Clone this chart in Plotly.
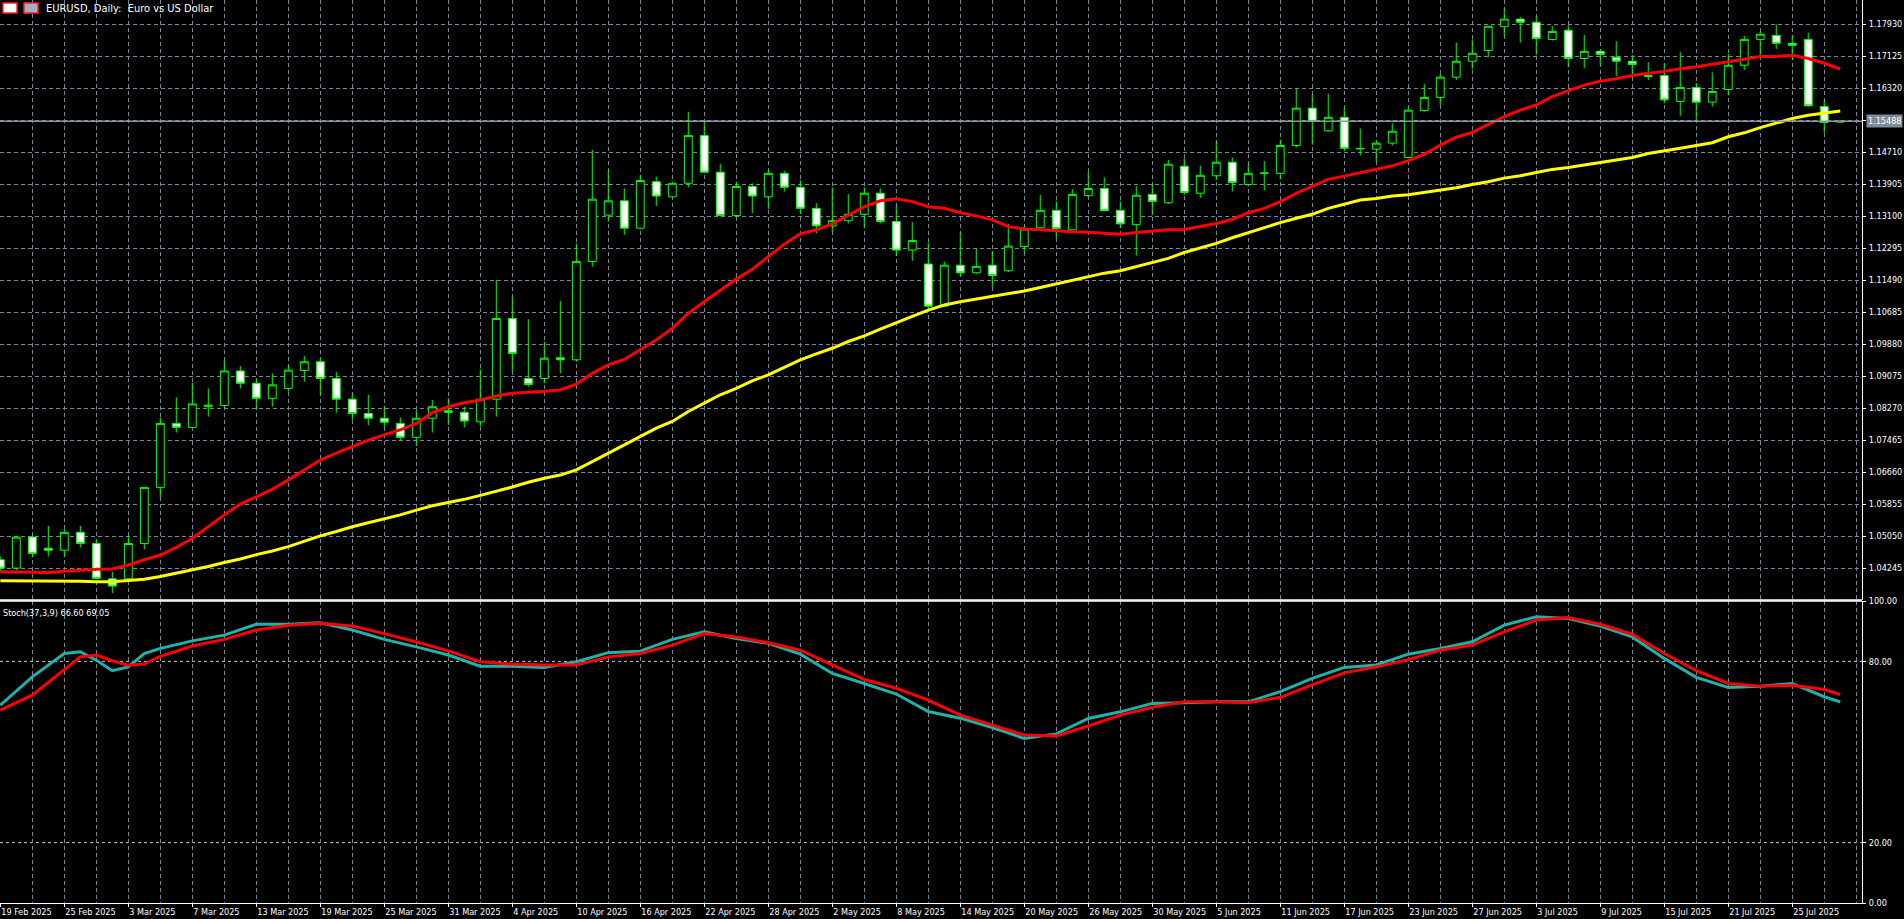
import plotly.graph_objects as go

W, H = 1904, 919

opens = [1.0446,1.0425,1.0503,1.0475,1.0470,1.0515,1.0487,1.0398,1.0398,1.0487,
1.0628,1.0789,1.0779,1.0831,1.0834,1.0921,1.0890,1.0852,1.0877,1.0922,
1.0944,1.0902,1.0850,1.0814,1.0802,1.0789,1.0754,1.0802,1.0821,1.0817,
1.0793,1.0850,1.1053,1.0902,1.0902,1.0954,1.0949,1.1196,1.1313,1.1349,
1.1280,1.1397,1.1359,1.1393,1.1513,1.1421,1.1312,1.1385,1.1359,1.1418,
1.1383,1.1330,1.1286,1.1299,1.1315,1.1368,1.1297,1.1225,1.1190,1.1084,
1.1187,1.1168,1.1187,1.1173,1.1234,1.1281,1.1325,1.1276,1.1362,1.1380,
1.1325,1.1289,1.1365,1.1344,1.1436,1.1368,1.1412,1.1446,1.1390,1.1418,
1.1418,1.1488,1.1582,1.1525,1.1559,1.1481,1.1479,1.1494,1.1458,1.1576,
1.1609,1.1660,1.1700,1.1727,1.1787,1.1806,1.1798,1.1755,1.1778,1.1707,
1.1725,1.1710,1.1700,1.1664,1.1664,1.1599,1.1634,1.1597,1.1629,1.1690,
1.1755,1.1765,1.1745,1.1755,1.1586,1.1547]
highs = [1.0454,1.0506,1.0508,1.0531,1.0523,1.0531,1.0496,1.0416,1.0506,1.0628,
1.0804,1.0855,1.0892,1.0877,1.0950,1.0933,1.0900,1.0915,1.0936,1.0959,
1.0953,1.0919,1.0865,1.0861,1.0833,1.0804,1.0823,1.0848,1.0852,1.0831,
1.0925,1.1150,1.1108,1.1051,1.0995,1.1097,1.1242,1.1477,1.1427,1.1380,
1.1414,1.1410,1.1393,1.1573,1.1548,1.1442,1.1397,1.1393,1.1427,1.1424,
1.1401,1.1343,1.1383,1.1366,1.1383,1.1380,1.1338,1.1295,1.1244,1.1196,
1.1269,1.1229,1.1223,1.1291,1.1286,1.1364,1.1348,1.1379,1.1423,1.1408,
1.1348,1.1386,1.1391,1.1452,1.1456,1.1437,1.1499,1.1458,1.1442,1.1449,
1.1502,1.1632,1.1618,1.1618,1.1584,1.1531,1.1500,1.1544,1.1582,1.1643,
1.1668,1.1747,1.1755,1.1788,1.1832,1.1811,1.1814,1.1789,1.1791,1.1766,
1.1730,1.1751,1.1716,1.1698,1.1695,1.1723,1.1645,1.1672,1.1718,1.1764,
1.1774,1.1793,1.1765,1.1772,1.1603,1.1550]
lows = [1.0416,1.0420,1.0452,1.0454,1.0454,1.0477,1.0398,1.0362,1.0395,1.0472,
1.0603,1.0766,1.0779,1.0806,1.0827,1.0877,1.0825,1.0831,1.0869,1.0894,
1.0861,1.0816,1.0798,1.0785,1.0779,1.0746,1.0732,1.0766,1.0785,1.0779,
1.0781,1.0806,1.0919,1.0881,1.0890,1.0915,1.0944,1.1183,1.1297,1.1263,
1.1277,1.1336,1.1358,1.1383,1.1418,1.1310,1.1309,1.1318,1.1328,1.1372,
1.1316,1.1267,1.1271,1.1292,1.1282,1.1292,1.1210,1.1198,1.1074,1.1083,
1.1160,1.1165,1.1131,1.1170,1.1219,1.1280,1.1254,1.1276,1.1358,1.1324,
1.1281,1.1211,1.1313,1.1341,1.1364,1.1356,1.1401,1.1372,1.1386,1.1375,
1.1403,1.1483,1.1490,1.1523,1.1474,1.1463,1.1447,1.1488,1.1456,1.1573,
1.1590,1.1653,1.1680,1.1710,1.1762,1.1747,1.1716,1.1752,1.1686,1.1683,
1.1690,1.1663,1.1663,1.1653,1.1594,1.1563,1.1554,1.1586,1.1614,1.1678,
1.1716,1.1731,1.1703,1.1586,1.1520,1.1545]
closes = [1.0425,1.0503,1.0462,1.0470,1.0515,1.0487,1.0399,1.0380,1.0487,1.0628,
1.0789,1.0779,1.0838,1.0835,1.0921,1.0890,1.0852,1.0886,1.0923,1.0944,
1.0902,1.0850,1.0814,1.0802,1.0792,1.0754,1.0802,1.0831,1.0817,1.0795,
1.0850,1.1053,1.0965,1.0887,1.0953,1.0949,1.1196,1.1353,1.1349,1.1280,
1.1400,1.1361,1.1393,1.1513,1.1421,1.1312,1.1385,1.1361,1.1418,1.1383,
1.1330,1.1286,1.1299,1.1315,1.1368,1.1297,1.1225,1.1249,1.1084,1.1187,
1.1168,1.1184,1.1161,1.1235,1.1278,1.1325,1.1279,1.1365,1.1380,1.1324,
1.1291,1.1363,1.1347,1.1441,1.1370,1.1413,1.1446,1.1395,1.1418,1.1419,
1.1488,1.1582,1.1549,1.1559,1.1481,1.1480,1.1494,1.1524,1.1577,1.1609,
1.1660,1.1700,1.1720,1.1788,1.1806,1.1798,1.1757,1.1775,1.1707,1.1725,
1.1717,1.1700,1.1692,1.1662,1.1603,1.1634,1.1597,1.1624,1.1690,1.1755,
1.1768,1.1745,1.1740,1.1588,1.1546,1.1549]

ma_red = [1.0416,1.0415,1.0415,1.0414,1.0417,1.0420,1.0422,1.0423,1.0433,1.0446,
1.0458,1.0477,1.0500,1.0529,1.0559,1.0586,1.0605,1.0623,1.0647,1.0672,
1.0697,1.0714,1.0731,1.0747,1.0760,1.0773,1.0789,1.0816,1.0831,1.0841,
1.0848,1.0858,1.0865,1.0867,1.0870,1.0873,1.0888,1.0915,1.0936,1.0950,
1.0975,1.0999,1.1028,1.1066,1.1095,1.1123,1.1152,1.1177,1.1209,1.1240,
1.1266,1.1276,1.1291,1.1313,1.1334,1.1349,1.1354,1.1347,1.1334,1.1330,
1.1319,1.1311,1.1301,1.1284,1.1278,1.1276,1.1273,1.1271,1.1270,1.1267,
1.1265,1.1269,1.1272,1.1276,1.1277,1.1284,1.1292,1.1302,1.1319,1.1330,
1.1347,1.1368,1.1386,1.1403,1.1411,1.1420,1.1428,1.1437,1.1450,1.1466,
1.1489,1.1509,1.1521,1.1540,1.1561,1.1577,1.1590,1.1611,1.1626,1.1640,
1.1650,1.1656,1.1664,1.1670,1.1674,1.1681,1.1686,1.1692,1.1699,1.1705,
1.1712,1.1712,1.1715,1.1707,1.1695,1.1680]
ma_yellow = [1.0393,1.0393,1.0393,1.0393,1.0392,1.0392,1.0391,1.0391,1.0394,1.0397,
1.0404,1.0412,1.0420,1.0429,1.0439,1.0448,1.0459,1.0468,1.0479,1.0492,
1.0506,1.0517,1.0529,1.0539,1.0549,1.0559,1.0571,1.0582,1.0590,1.0598,
1.0608,1.0618,1.0629,1.0641,1.0651,1.0659,1.0672,1.0693,1.0714,1.0735,
1.0756,1.0777,1.0794,1.0819,1.0840,1.0861,1.0877,1.0896,1.0911,1.0930,
1.0949,1.0964,1.0978,1.0995,1.1009,1.1026,1.1041,1.1058,1.1074,1.1087,
1.1095,1.1102,1.1108,1.1116,1.1122,1.1131,1.1140,1.1150,1.1158,1.1167,
1.1173,1.1183,1.1193,1.1204,1.1219,1.1230,1.1242,1.1256,1.1269,1.1282,
1.1294,1.1305,1.1315,1.1330,1.1341,1.1351,1.1355,1.1361,1.1364,1.1370,
1.1375,1.1382,1.1390,1.1397,1.1406,1.1412,1.1420,1.1428,1.1433,1.1439,
1.1446,1.1452,1.1458,1.1468,1.1474,1.1481,1.1488,1.1495,1.1510,1.1520,
1.1533,1.1544,1.1556,1.1564,1.1569,1.1575]

stoch_idx = [0,2,4,5,6,7,8,9,10,12,14,16,18,20,22,24,26,28,30,32,34,36,38,40,42,44,46,48,50,
52,54,56,58,60,62,64,66,68,70,72,74,76,78,80,82,84,86,88,90,92,94,96,98,100,102,104,106,108,
110,112,114,115]
stoch_main = [65.5,74.9,82.6,83.2,80.4,76.9,78.2,82.6,84.3,86.8,88.7,92.3,92.3,92.8,90.4,87.3,
84.8,82.1,78.4,78.4,78.0,79.9,82.9,83.4,87.3,89.8,87.6,86.0,82.4,76.0,72.7,69.2,63.4,61.2,58.1,
54.5,56.0,61.1,63.3,66.1,66.3,66.6,66.6,70.0,74.4,78.0,78.8,82.4,84.3,86.5,92.0,94.8,94.2,91.7,
88.1,81.0,74.7,71.4,71.8,72.7,68.3,66.6]
stoch_signal = [63.9,68.8,77.3,81.5,82.1,80.2,78.7,79.1,81.7,85.1,87.3,90.4,92.0,92.6,91.7,89.2,
86.4,83.5,79.9,79.1,78.8,78.8,81.5,82.6,85.4,89.2,88.1,86.2,83.7,78.8,74.0,71.1,67.2,62.2,58.9,
55.6,55.3,58.6,62.2,64.8,66.6,66.6,66.3,68.1,72.2,76.2,78.2,80.6,83.7,85.4,89.8,93.7,94.5,92.3,
89.0,82.6,76.9,72.7,71.8,72.1,70.7,69.05]

date_labels = ["19 Feb 2025","25 Feb 2025","3 Mar 2025","7 Mar 2025","13 Mar 2025","19 Mar 2025",
"25 Mar 2025","31 Mar 2025","4 Apr 2025","10 Apr 2025","16 Apr 2025","22 Apr 2025","28 Apr 2025",
"2 May 2025","8 May 2025","14 May 2025","20 May 2025","26 May 2025","30 May 2025","5 Jun 2025",
"11 Jun 2025","17 Jun 2025","23 Jun 2025","27 Jun 2025","3 Jul 2025","9 Jul 2025","15 Jul 2025",
"21 Jul 2025","25 Jul 2025"]
price_ticks = [1.04245,1.05050,1.05855,1.06660,1.07465,1.08270,1.09075,1.09880,1.10685,1.11490,
1.12295,1.13100,1.13905,1.14710,1.15515,1.16320,1.17125,1.17930]
price_tick_text = ["1.04245","1.05050","1.05855","1.06660","1.07465","1.08270","1.09075","1.09880",
"1.10685","1.11490","1.12295","1.13100","1.13905","1.14710","","1.16320","1.17125","1.17930"]
current_price = 1.15488

n = len(closes)
xs = list(range(n))
GRID = "#7a8797"
FONT = "DejaVu Sans Condensed, DejaVu Sans, sans-serif"
TF = dict(size=9, color="#ffffff", family=FONT)
xr = [-0.02, 116.36]
xdom = [0, 1862 / W]
main_dom = [1 - 600 / H, 1]
st_dom = [1 - 903 / H, 1 - 601 / H]

fig = go.Figure()
fig.add_trace(go.Candlestick(
    x=xs, open=opens, high=highs, low=lows, close=closes,
    increasing=dict(line=dict(color="#00ff00", width=1), fillcolor="#000000"),
    decreasing=dict(line=dict(color="#00ff00", width=1), fillcolor="#ffffff"),
    whiskerwidth=0, showlegend=False, xaxis="x", yaxis="y", hoverinfo="skip"))
fig.add_trace(go.Scatter(x=xs, y=ma_red, mode="lines", line=dict(color="#ff0000", width=3),
                         showlegend=False, xaxis="x", yaxis="y"))
fig.add_trace(go.Scatter(x=xs, y=ma_yellow, mode="lines", line=dict(color="#ffff00", width=3),
                         showlegend=False, xaxis="x", yaxis="y"))
fig.add_trace(go.Scatter(x=stoch_idx, y=stoch_main, mode="lines", line=dict(color="#20b2aa", width=3),
                         showlegend=False, xaxis="x2", yaxis="y2"))
fig.add_trace(go.Scatter(x=stoch_idx, y=stoch_signal, mode="lines", line=dict(color="#ff0000", width=3),
                         showlegend=False, xaxis="x2", yaxis="y2"))

minor_grid = dict(tickvals=list(range(0, n + 2, 2)), showgrid=True, gridcolor=GRID,
                  griddash="4px,3px", gridwidth=1, ticks="")
fig.update_layout(
    width=W, height=H, margin=dict(l=0, r=0, t=0, b=0, autoexpand=False),
    paper_bgcolor="#000000", plot_bgcolor="#000000",
    font=dict(family=FONT, color="#ffffff", size=9),
    xaxis=dict(domain=xdom, range=xr, anchor="y", showticklabels=False, showgrid=False,
               zeroline=False, minor=minor_grid, rangeslider=dict(visible=False), automargin=False),
    yaxis=dict(domain=main_dom, range=[1.03448, 1.18541], side="right", tickmode="array",
               tickvals=price_ticks, ticktext=price_tick_text, showgrid=True, gridcolor=GRID,
               griddash="4px,3px", zeroline=False, ticks="outside", ticklen=3, tickcolor="#ffffff",
               tickfont=TF, ticklabelstandoff=1, showline=True, linecolor="#ffffff",
               anchor="x", automargin=False),
    xaxis2=dict(domain=xdom, range=xr, anchor="y2", tickmode="array",
                tickvals=list(range(0, 113, 4)), ticktext=date_labels, ticklabelposition="outside right",
                tickangle=0, ticks="outside", ticklen=3, tickcolor="#ffffff", showgrid=False,
                zeroline=False, minor=minor_grid, showline=True, linecolor="#ffffff",
                tickfont=TF, ticklabelstandoff=0, automargin=False),
    yaxis2=dict(domain=st_dom, range=[0, 100], side="right", tickmode="array",
                tickvals=[0, 20, 80, 100], ticktext=["0.00", "20.00", "80.00", "100.00"],
                showgrid=False, zeroline=False, ticks="outside", ticklen=3, tickcolor="#ffffff",
                showline=True, linecolor="#ffffff", anchor="x2", automargin=False,
                tickfont=TF, ticklabelstandoff=1),
)
for lv in (20, 80):
    fig.add_shape(type="line", xref="x2 domain", yref="y2", x0=0, x1=1, y0=lv, y1=lv,
                  line=dict(color="#c8c8c8", width=1, dash="3px,3px"), layer="below")
for yy in (main_dom[0], st_dom[1]):
    fig.add_shape(type="line", xref="paper", yref="paper", x0=0, x1=xdom[1], y0=yy, y1=yy,
                  line=dict(color="#ffffff", width=1.5))
fig.add_shape(type="line", xref="x domain", yref="y", x0=0, x1=1, y0=current_price, y1=current_price,
              line=dict(color="#8a96a6", width=1.5))
fig.add_annotation(xref="paper", yref="y", x=xdom[1] + 0.002, y=current_price, text="1.15488",
                   showarrow=False, xanchor="left", bgcolor="#7d8b9a", font=TF, borderpad=1)
fig.add_annotation(xref="paper", yref="paper", x=44 / W, y=1 - 8 / H, text="EURUSD, Daily:  Euro vs US Dollar",
                   showarrow=False, xanchor="left", yanchor="middle", font=dict(size=11, color="#ffffff"))
fig.add_annotation(xref="paper", yref="paper", x=1 / W, y=1 - 613 / H, text="Stoch(37,3,9) 66.60 69.05",
                   showarrow=False, xanchor="left", yanchor="middle", font=TF)
fig.add_shape(type="rect", xref="paper", yref="paper", x0=3 / W, x1=17 / W, y0=1 - 13 / H, y1=1 - 3 / H,
              line=dict(color="#ff2020", width=1.5), fillcolor="#ffffff")
fig.add_shape(type="rect", xref="paper", yref="paper", x0=24 / W, x1=38 / W, y0=1 - 13 / H, y1=1 - 3 / H,
              line=dict(color="#ff2020", width=1.5), fillcolor="#a0b0c8")

fig.write_html("out.html", config={"displayModeBar": False},
               post_script="document.body.style.margin='0';document.body.style.overflow='hidden';")
